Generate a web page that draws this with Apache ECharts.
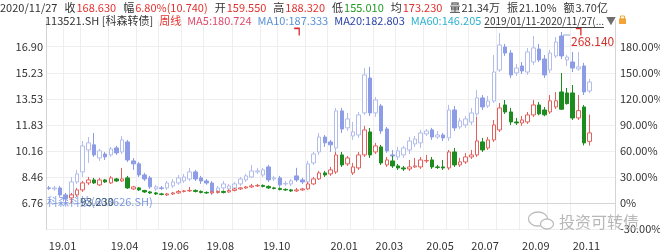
<!DOCTYPE html>
<html>
<head>
<meta charset="utf-8">
<script src="https://cdn.jsdelivr.net/npm/echarts@6.0.0/dist/echarts.min.js"></script>
<style>
html,body{margin:0;padding:0;background:#ffffff;}
#chart{width:660px;height:252px;}
</style>
</head>
<body>
<div id="chart"></div>
<script>
// ================= DATA =================
// 科森科技 (603626.SH) weekly candles, price (left axis)
const stockOpen  = [7.75,7.69,7.75,7.30,7.17,8.14,8.79,10.21,10.54,9.69,
  9.95,9.89,10.34,10.08,10.73,9.50,9.31,8.59,8.40,7.69,
  7.75,7.75,7.88,8.07,8.20,8.33,8.79,8.40,8.20,8.07,
  7.49,7.75,7.69,7.75,8.01,8.27,8.46,8.79,8.59,9.11,
  8.33,8.40,8.01,8.01,8.53,8.27,8.14,9.37,10.08,11.05,
  10.73,10.34,12.74,11.64,11.12,11.18,12.61,14.87,12.61,13.06,
  11.57,9.89,9.76,9.89,10.21,10.60,10.67,11.25,11.51,11.05,
  11.18,10.99,12.80,11.70,11.83,12.02,12.54,13.58,13.06,13.38,
  15.39,16.88,16.49,15.20,15.65,15.26,15.91,16.75,16.10,15.39,
  16.30,17.59,16.04,15.91,15.46,15.65,14.03];
const stockClose = [7.72,7.75,7.30,7.04,8.14,8.66,10.47,10.67,9.89,10.15,
  9.76,10.28,10.02,10.86,9.56,9.31,8.59,8.33,7.82,7.82,
  7.72,8.07,8.14,8.40,8.46,8.79,8.33,8.20,8.07,7.43,
  7.75,8.01,7.88,8.01,8.33,8.53,8.85,8.85,8.92,8.27,
  8.40,7.95,8.04,8.20,8.27,8.14,9.31,9.95,11.05,10.67,
  10.54,12.74,11.57,12.22,11.38,12.48,15.07,12.61,13.45,11.44,
  10.15,9.82,10.15,10.34,10.79,10.92,11.31,11.44,11.05,11.18,
  10.99,12.80,11.64,12.09,12.22,12.61,13.58,13.00,13.38,15.26,
  17.01,16.49,15.07,15.52,15.33,16.56,16.82,16.04,15.07,16.49,
  17.20,16.30,16.23,15.52,15.59,13.97,14.61];
const stockLow   = [7.62,7.56,7.17,6.78,7.04,8.01,8.46,9.37,9.76,9.50,
  9.56,9.76,9.89,9.95,9.43,8.92,8.46,8.20,7.69,7.56,
  7.62,7.62,7.75,7.95,8.07,8.20,8.20,8.01,7.95,7.30,
  7.36,7.62,7.56,7.62,7.88,8.14,8.40,8.66,8.46,8.14,
  8.20,7.82,7.88,7.88,8.14,8.01,7.82,9.24,9.89,10.41,
  10.08,10.08,11.31,11.44,10.86,10.99,12.48,12.41,12.35,11.25,
  10.02,9.56,9.56,9.69,9.95,10.41,10.34,11.12,10.86,10.92,
  10.79,10.79,11.44,11.57,11.64,11.83,12.41,12.80,12.93,13.25,
  15.26,16.30,14.87,15.00,15.13,15.07,15.72,15.91,14.87,15.20,
  16.17,16.10,15.65,15.26,15.33,13.77,13.90];
const stockHigh  = [7.88,7.88,7.88,7.43,8.46,8.92,10.79,11.05,11.31,10.28,
  10.08,10.41,10.47,11.12,10.86,9.69,9.43,8.72,8.53,7.95,
  7.88,8.20,8.33,8.59,8.66,9.05,8.92,8.53,8.33,8.20,
  7.88,8.20,8.01,8.14,8.46,8.66,9.24,9.05,9.05,9.24,
  8.53,8.53,8.20,8.33,9.05,8.40,9.50,10.08,11.31,11.18,
  10.86,12.93,12.93,12.61,12.02,12.67,15.52,15.59,13.64,13.19,
  11.70,10.21,10.41,10.47,11.05,11.12,11.51,11.57,11.64,11.44,
  11.31,13.13,13.06,12.28,12.41,12.93,14.10,13.77,13.71,16.36,
  17.79,17.08,16.69,15.78,15.91,16.82,17.59,17.08,16.36,16.69,
  17.53,17.85,16.36,16.56,16.56,15.85,14.81];

// 113521.SH 科森转债 weekly candles, price (shown on right % axis)
const bondOpen  = [null,null,null,null,98.91,102.13,107.49,114.99,118.20,112.84,
  118.20,114.99,119.27,117.13,120.35,108.56,109.63,106.95,105.34,104.27,
  103.20,102.13,103.20,104.27,105.88,106.41,106.95,105.88,104.81,104.27,
  104.81,105.88,105.34,106.95,108.56,109.63,110.70,111.77,112.31,111.24,
  109.63,109.09,108.02,107.49,106.41,107.49,108.56,113.92,119.27,125.70,
  124.63,126.78,144.99,135.35,125.70,131.06,144.99,169.64,148.21,153.56,
  134.28,138.56,133.20,131.06,129.99,132.13,132.13,138.56,139.63,132.13,
  132.13,131.06,148.21,134.28,137.49,142.85,144.99,158.92,152.49,161.07,
  171.78,198.57,191.07,180.35,179.28,180.35,187.86,198.57,193.21,191.07,
  196.43,212.50,211.43,211.43,184.64,196.43,159.55];
const bondClose = [null,null,null,null,102.13,107.49,114.99,118.20,114.99,118.20,
  116.06,120.35,117.13,119.27,109.63,110.70,107.49,105.34,104.27,103.20,
  102.66,103.20,104.27,105.88,106.41,106.95,105.88,104.81,104.27,105.34,
  105.88,104.81,106.95,108.56,109.63,110.70,111.77,112.31,111.24,109.63,
  109.09,108.02,107.49,106.41,107.49,108.56,113.92,119.27,125.70,123.56,
  128.92,144.99,134.28,141.78,132.13,144.99,171.78,144.99,154.64,136.42,
  139.63,133.20,131.06,129.99,132.13,133.20,139.63,139.10,132.13,131.60,
  131.06,148.21,134.28,137.49,142.85,144.99,159.99,150.35,161.07,177.14,
  195.36,191.07,180.35,179.28,182.50,187.86,198.57,189.00,188.00,203.00,
  203.00,194.00,200.00,184.64,192.50,157.89,168.63];
const bondLow   = [null,null,null,null,93.23,99.98,105.34,112.84,113.92,111.77,
  114.99,113.92,116.06,116.06,108.56,107.49,106.41,104.27,103.20,102.13,
  101.59,101.06,102.13,103.20,104.81,105.34,104.81,103.74,103.20,103.20,
  103.74,103.74,104.27,105.88,107.49,108.56,109.63,110.70,110.16,108.56,
  108.02,106.95,106.41,105.34,105.34,106.41,107.49,112.84,118.20,121.42,
  122.49,124.63,132.13,133.20,123.56,128.92,142.85,141.78,146.06,134.28,
  132.13,131.06,128.92,127.85,127.85,131.06,129.99,136.42,129.99,129.99,
  128.92,128.92,132.13,132.13,135.35,140.71,142.85,148.21,150.35,158.92,
  169.64,188.93,177.14,177.14,176.07,178.21,185.71,187.50,186.50,188.93,
  194.29,193.21,199.00,182.50,182.50,155.20,155.01];
const bondHigh  = [null,null,null,null,104.27,109.63,117.13,121.42,120.35,120.35,
  119.27,122.49,120.35,131.06,122.49,111.77,110.70,107.49,106.41,105.34,
  104.27,104.27,105.34,107.49,107.49,110.70,108.02,106.95,105.88,106.41,
  106.95,106.95,108.02,109.63,110.70,111.77,113.92,113.92,113.38,112.31,
  110.70,110.16,109.09,108.56,109.63,109.63,116.06,121.42,127.85,127.85,
  132.13,148.21,148.21,143.92,136.42,148.21,176.07,173.93,157.85,155.71,
  142.85,143.92,135.35,133.20,139.63,141.78,142.85,144.99,142.85,134.28,
  139.63,150.35,152.49,141.78,147.14,150.35,186.00,163.21,164.28,182.50,
  200.72,203.93,195.36,184.64,186.78,191.07,203.93,201.79,196.43,209.29,
  212.50,232.86,216.79,220.00,209.29,198.57,188.32];
const bondBase = 93.23;   // 0% reference of the right axis

// Tick labels
const leftTickLabels  = ['6.76','8.46','10.16','11.83','13.53','15.23','16.90'];
const rightTickLabels = ['-30.00%','0%','30.00%','60.00%','90.00%','120.00%','150.00%','180.00%'];
const xTickLabels     = ['19.01','19.04','19.06','19.08','19.10','20.01','20.03','20.05','20.07','20.09','20.11'];

// Weeks (dated by last trading day of the week)
const firstWeek = '2019-01-11';
const lastWeek  = '2020-11-27';
const closedWeeks = ['2019-02-08','2020-01-31'];
const shortWeeks = {'2019-05-03':'2019-04-30','2019-10-04':'2019-09-30','2020-05-01':'2020-04-30','2020-10-02':'2020-09-30'};
const emptySlots = ['', ' ', '  ', '   '];

// Header texts
const quoteDate   = '2020/11/27';
const quoteLabels = ['收','幅','开','高','低','均','量','振','额'];
const quoteValues = ['168.630','6.80%(10.740)','159.550','188.320','155.010','173.230','21.34万','21.10%','3.70亿'];
const quoteDirs   = ['up','up','up','up','down','up','flat','flat','flat'];
const titleText   = '113521.SH [科森转债]';
const periodText  = '周线';
const maTexts     = ['MA5:180.724','MA10:187.333','MA20:182.803','MA60:146.205'];
const rangeText   = '2019/01/11-2020/11/27(...';
const stockLegendText = '科森科技(603626.SH)';
const extremeHighText = '268.140';
const extremeLowText  = '93.230';
const eventWeeks  = [44, 94];
const watermarkText = '投资可转债';

// ================= BUILD =================
const FONT = '"Noto Sans CJK SC","Noto Sans",sans-serif';

function pad2(n){ return String(n).padStart(2,'0'); }
function ymd(d){ return d.getUTCFullYear()+'-'+pad2(d.getUTCMonth()+1)+'-'+pad2(d.getUTCDate()); }
const weeks = [];
{
  const [y0,m0,d0] = firstWeek.split('-').map(Number);
  const [y1,m1,d1] = lastWeek.split('-').map(Number);
  for (let t = Date.UTC(y0,m0-1,d0); t <= Date.UTC(y1,m1-1,d1); t += 7*86400000) {
    const s = ymd(new Date(t));
    if (closedWeeks.indexOf(s) >= 0) continue;
    weeks.push(shortWeeks[s] || s);
  }
}
const categories = weeks.concat(emptySlots);

const monthStart = new Set();
const labelAt = {};
weeks.forEach((w, i) => {
  if (i === 0 || w.slice(0,7) !== weeks[i-1].slice(0,7)) {
    monthStart.add(i);
    const code = w.slice(2,4) + '.' + w.slice(5,7);
    if (xTickLabels.indexOf(code) >= 0) labelAt[i] = code;
  }
});

const stockRows = stockOpen.map((o, i) => [o, stockClose[i], stockLow[i], stockHigh[i]]);
const toPct = p => (p == null ? '-' : (p / bondBase - 1) * 100);
const bondRows = bondOpen.map((o, i) => [toPct(o), toPct(bondClose[i]), toPct(bondLow[i]), toPct(bondHigh[i])]);

let maxIdx = 0, minIdx = 0;
stockHigh.forEach((v, i) => { if (v > stockHigh[maxIdx]) maxIdx = i; });
stockLow.forEach((v, i) => { if (v < stockLow[minIdx]) minIdx = i; });

// ---------- header layout ----------
const HSIZE = 11;
const mctx = document.createElement('canvas').getContext('2d');
function tw(s, size){ mctx.font = size + 'px ' + FONT; return mctx.measureText(s).width; }
const dirColor = {up:'#e2312d', down:'#1f9a22', flat:'#333333'};
const graphics = [];
function layoutLine(items, x0, y){
  let x = x0;
  items.forEach(it => {
    const size = it.size || HSIZE;
    x += it.gap || 0;
    it.x = x; it.w = tw(it.t, size);
    graphics.push({type:'text', z:20, x:x, y:y, silent:true,
      style:{text:it.t, fill:it.c, fontSize:size, fontFamily:FONT, verticalAlign:'middle', align:'left'}});
    x += it.w;
  });
  return x;
}
const line1 = [{t:quoteDate, c:'#333333'}];
quoteLabels.forEach((l, i) => {
  line1.push({t:l, c:'#333333', gap: 7});
  line1.push({t:quoteValues[i], c:dirColor[quoteDirs[i]], gap: 1});
});
layoutLine(line1, 0, 8);

const maColors = ['#e0486a','#5a92d6','#2c46a8','#2fb2cf'];
const line2 = [{t:titleText, c:'#333333'}, {t:periodText, c:'#e2312d', gap:6}];
maTexts.forEach((m, i) => line2.push({t:m, c:maColors[i], gap:6}));
const rangeItem = {t:rangeText, c:'#333333', gap:3, size:10};
line2.push(rangeItem);
const arrowItem = {t:'▼', c:'#6f6f6f', gap:2, size:10};
line2.push(arrowItem);
const endX = layoutLine(line2, 45, 21);
graphics.push({type:'line', z:20, silent:true,
  shape:{x1:rangeItem.x, y1:27.5, x2:rangeItem.x + rangeItem.w, y2:27.5},
  style:{stroke:'#444444', lineWidth:1}});
// small orange lock icon
graphics.push({type:'rect', z:20, silent:true, shape:{x:endX+3, y:18.5, width:7, height:5.5}, style:{fill:'#f2a436'}});
graphics.push({type:'rect', z:20, silent:true, shape:{x:endX+4.5, y:16, width:4, height:3}, style:{fill:'none', stroke:'#f2a436', lineWidth:1}});

// stock legend text (bottom-left inside plot)
graphics.push({type:'text', z:1, silent:true, x:47, y:202,
  style:{text:stockLegendText, fill:'#7c98e6', fontSize:11, fontFamily:FONT, verticalAlign:'middle'}});

// watermark
graphics.push({type:'ellipse', z:1, silent:true, shape:{cx:538, cy:219, rx:9.5, ry:7}, style:{fill:'none', stroke:'#bdbdbd', lineWidth:1.3}});
graphics.push({type:'ellipse', z:1, silent:true, shape:{cx:547, cy:224, rx:6.5, ry:5}, style:{fill:'#ffffff', stroke:'#bdbdbd', lineWidth:1.3}});
graphics.push({type:'text', z:1, silent:true, x:559, y:222,
  style:{text:watermarkText, fill:'#b8b8b8', fontSize:16, fontFamily:FONT, verticalAlign:'middle'}});

// ---------- chart ----------
const splitColors = ['#eeeeee','#eeeeee','#eeeeee','#eeeeee','#eeeeee','#eeeeee','#eeeeee','#eeeeee','rgba(0,0,0,0)'];

const option = {
  animation: false,
  backgroundColor: '#ffffff',
  textStyle: {fontFamily: FONT},
  grid: {left: 46, right: 45, top: 20.6, bottom: 22.7, containLabel: false, outerBoundsMode: 'none'},
  xAxis: {
    type: 'category', data: categories, boundaryGap: true, offset: 7,
    axisLine: {show: true, lineStyle: {color: '#d4d4d4'}},
    axisTick: {show: false},
    axisLabel: {
      interval: (i) => labelAt[i] !== undefined,
      formatter: (v, i) => labelAt[i] || '',
      align: 'left', margin: 4, color: '#333333', fontSize: 11
    },
    splitLine: {show: true, interval: (i) => monthStart.has(i), lineStyle: {color: '#eeeeee', width: 1}}
  },
  yAxis: [
    {
      type: 'value', position: 'left', min: 5.07, max: 18.59, interval: 1.69, scale: false,
      axisLine: {show: true, lineStyle: {color: '#d4d4d4'}},
      axisTick: {show: false}, splitLine: {show: false},
      axisLabel: {
        formatter: v => { const k = Math.round((v - 6.76) / 1.69); return leftTickLabels[k] || ''; },
        color: '#333333', fontSize: 11, margin: 3
      }
    },
    {
      type: 'value', position: 'right', min: -30, max: 210, interval: 30, scale: false,
      axisLine: {show: true, lineStyle: {color: '#d4d4d4'}},
      axisTick: {show: false},
      splitLine: {show: true, lineStyle: {color: splitColors, width: 1}},
      axisLabel: {
        formatter: v => rightTickLabels[Math.round((v + 30) / 30)] || '',
        color: '#333333', fontSize: 11, margin: 5
      }
    }
  ],
  series: [
    {
      name: '科森科技', type: 'candlestick', xAxisIndex: 0, yAxisIndex: 0,
      data: stockRows, barWidth: 4,
      itemStyle: {color: '#ffffff', color0: '#8c9ce6', borderColor: '#b3bdeb', borderColor0: '#8c9ce6', borderWidth: 1},
      markPoint: {
        silent: true, animation: false,
        data: [
          {coord: [maxIdx, stockHigh[maxIdx]], symbol: 'rect', symbolSize: [7, 1], symbolOffset: [5, 3],
           itemStyle: {color: '#9aa6d8'},
           label: {show: true, formatter: extremeHighText, position: 'right', distance: 1, offset: [0, 6],
                   color: '#d2302c', fontSize: 12, fontFamily: FONT}},
          {coord: [minIdx, stockLow[minIdx]], symbol: 'rect', symbolSize: [1, 1],
           itemStyle: {color: 'rgba(0,0,0,0)'},
           label: {show: true, formatter: extremeLowText, position: 'right', distance: 14, offset: [0, -1],
                   color: '#3b5461', fontSize: 11, fontFamily: FONT}}
        ]
      }
    },
    {
      name: '科森转债', type: 'candlestick', xAxisIndex: 0, yAxisIndex: 1,
      data: bondRows, barWidth: 4,
      itemStyle: {color: '#ffffff', color0: '#1c8c1e', borderColor: '#e2615c', borderColor0: '#1c8c1e', borderWidth: 1},
      markPoint: {
        silent: true, animation: false,
        data: eventWeeks.map(i => ({
          coord: [i, 197], symbol: 'path://M0,0L6,0L6,8', symbolSize: [5, 7], symbolKeepAspect: false,
          itemStyle: {color: 'rgba(0,0,0,0)', borderColor: '#d8262a', borderWidth: 1.5},
          label: {show: false}
        }))
      }
    }
  ],
  graphic: graphics
};

const chart = echarts.init(document.getElementById('chart'), null, {renderer: 'canvas'});
chart.setOption(option);
</script>
</body>
</html>
